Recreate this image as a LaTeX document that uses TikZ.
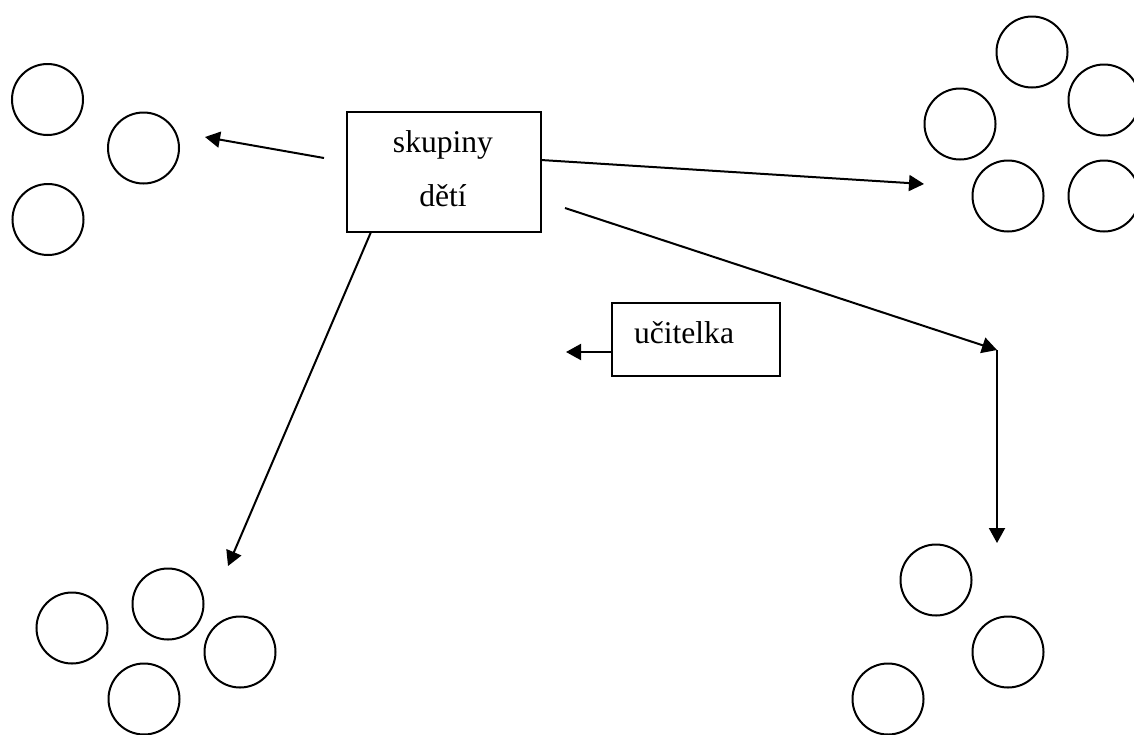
\documentclass[tikz,border=0pt]{standalone}
\usepackage{fontspec}
\setmainfont{Liberation Serif}
\usetikzlibrary{arrows.meta}
\begin{document}
\begin{tikzpicture}[x=0.5pt, y=-0.5pt, line width=1pt,
  kid/.style={circle, draw, inner sep=0pt, minimum size=35.5pt},
  frame/.style={rectangle, draw, inner sep=0pt},
  word/.style={inner sep=0pt, font=\fontsize{15.8pt}{19pt}\selectfont},
  arr/.style={-{Triangle[length=7.5pt, width=8pt]}}]
\useasboundingbox (0,0) rectangle (1134,734);

% group top left
\node[kid] (a1) at (47.5,99.5) {};
\node[kid] (a2) at (143.5,148) {};
\node[kid] (a3) at (48,219.5) {};

% group top right
\node[kid] (b1) at (1032,52) {};
\node[kid] (b2) at (1104,100) {};
\node[kid] (b3) at (960,124) {};
\node[kid] (b4) at (1008,196) {};
\node[kid] (b5) at (1104,196) {};

% group bottom left
\node[kid] (c1) at (72,628) {};
\node[kid] (c2) at (168,604) {};
\node[kid] (c3) at (240,652) {};
\node[kid] (c4) at (144,699) {};

% group bottom right
\node[kid] (d1) at (936,580) {};
\node[kid] (d2) at (1008,652) {};
\node[kid] (d3) at (888,699) {};

% central box with the groups of children
\node[frame, minimum width=97pt, minimum height=60pt] (skup) at (444,172) {};
\node[word, anchor=base] (t1) at (443,152) {skupiny};
\node[word, anchor=base] (t2) at (443,206) {dětí};

% teacher box
\node[frame, minimum width=84pt, minimum height=36.5pt] (ucit) at (696,339.5) {};
\node[word, anchor=base west] (t3) at (633,343) {učitelka};

% arrow ends
\coordinate (p1s) at (324,158);
\coordinate (p1e) at (205,137);
\coordinate (p2s) at (541,160);
\coordinate (p2e) at (924,184);
\coordinate (p3s) at (565,208);
\coordinate (p3m) at (997,350);
\coordinate (p3e) at (997,543);
\coordinate (p4s) at (371,232);
\coordinate (p4e) at (228,566);
\coordinate (p5s) at (612,352);
\coordinate (p5e) at (566,352);

\draw[arr] (p1s) -- (p1e);
\draw[arr] (p2s) -- (p2e);
\draw[arr] (p3s) -- (p3m);
\draw[arr] (p3m) -- (p3e);
\draw[arr] (p4s) -- (p4e);
\draw[arr] (p5s) -- (p5e);
\end{tikzpicture}
\end{document}
